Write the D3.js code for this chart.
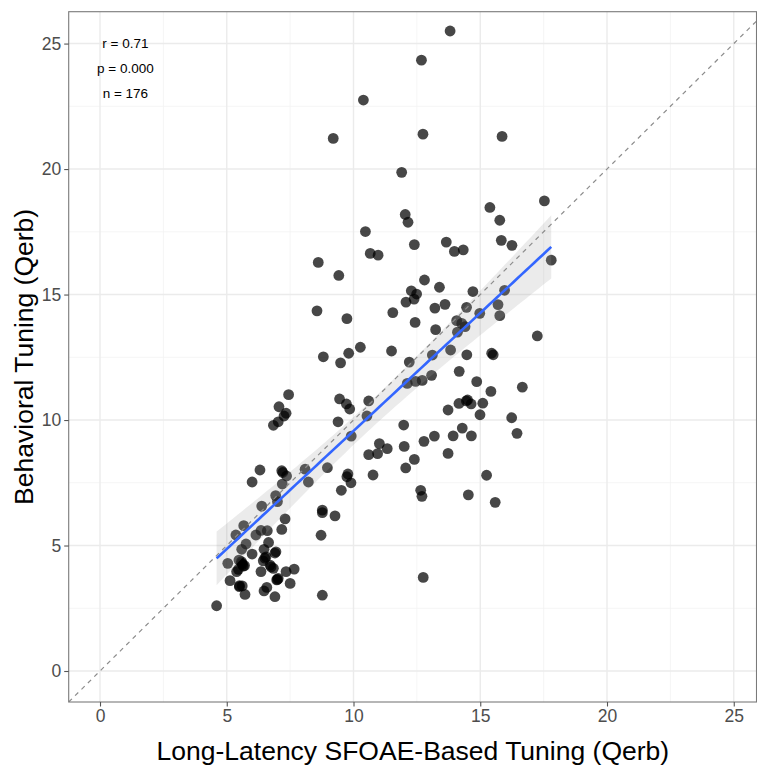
<!DOCTYPE html>
<html>
<head>
<meta charset="utf-8">
<script src="https://cdn.jsdelivr.net/npm/d3@7/dist/d3.min.js"></script>
<style>
  html, body { margin: 0; padding: 0; background: #fff; }
  svg { display: block; font-family: "Liberation Sans", Arial, sans-serif; }
</style>
</head>
<body>
<svg id="chart" width="757" height="767"></svg>
<script>
// Long-latency SFOAE-based tuning (x) against behavioral tuning (y), both in Qerb
const sfoaeQ = [
  13.81, 12.68, 10.39, 9.2, 12.74, 15.86, 11.9, 12.04, 12.15, 10.47,
  12.4, 13.66, 10.66, 10.97, 8.61, 9.42, 12.8, 13.39, 12.28, 12.49,
  12.39, 12.07, 13.61, 13.21, 8.56, 9.74, 11.55, 12.43, 13.24, 10.27,
  11.5, 9.81, 8.81, 9.49, 12.2, 13.11, 12.12, 12.45, 12.71, 13.08,
  13.73, 9.45, 9.72, 9.85, 10.6, 10.53, 9.39, 9.91, 11.98, 11.02,
  11.33, 10.6, 10.95, 12.0, 12.78, 13.19, 13.73, 12.4, 12.06, 10.77,
  8.09, 8.22, 8.97, 9.78, 9.74, 9.9, 9.52, 12.65, 12.7, 8.77,
  8.77, 9.27, 8.72, 12.75, 8.77,
  17.53, 15.38, 15.77, 15.83, 16.25, 17.8, 13.98, 14.33, 14.71, 15.96,
  14.46, 14.98, 15.7, 15.77, 14.07, 14.27, 14.4, 14.1, 17.25, 13.83,
  15.45, 15.51, 14.47, 14.17, 14.86, 15.42, 16.66, 14.16, 14.45, 14.64,
  15.1, 14.99, 16.24, 13.93, 14.29, 14.65, 16.45, 15.25, 14.53, 15.59,
  7.44, 7.06, 7.34, 7.26, 7.03, 6.84, 6.31, 6.0, 7.17, 7.21,
  7.36, 7.19, 6.93, 7.0, 6.38, 7.3, 7.17, 6.6, 6.35, 5.67,
  5.36, 6.15, 5.76, 5.59, 6.65, 6.47, 6.94, 6.0, 5.04, 5.48,
  5.59, 5.65, 5.39, 6.44, 6.55, 6.71, 6.84, 6.35, 7.34, 7.66,
  5.13, 5.5, 5.61, 5.72, 6.47, 6.58, 6.97, 7.03, 6.9, 7.5,
  4.6, 5.62, 5.58, 5.46, 6.9, 6.75, 14.5, 7.0, 5.7, 6.5, 5.5
];
const behavioralQ = [
  25.5, 24.34, 22.75, 21.22, 21.39, 21.3, 19.87, 18.19, 17.88, 17.51,
  16.99, 17.09, 16.64, 16.57, 16.28, 15.76, 15.58, 15.29, 15.15, 15.02,
  14.82, 14.7, 14.61, 14.46, 14.35, 14.04, 14.28, 13.89, 13.6, 12.9,
  12.75, 12.66, 12.52, 12.28, 12.31, 12.59, 11.46, 11.54, 11.58, 11.78,
  10.4, 10.84, 10.64, 10.44, 10.76, 10.16, 9.93, 9.36, 9.8, 9.06,
  8.86, 8.62, 8.66, 8.95, 9.15, 9.36, 8.67, 8.43, 8.09, 7.81,
  8.04, 7.53, 8.1, 7.85, 7.74, 7.5, 7.2, 7.2, 6.96, 6.41,
  6.31, 6.18, 5.41, 3.73, 3.02,
  18.73, 18.47, 17.96, 17.16, 16.96, 16.37, 16.72, 16.78, 15.12, 15.17,
  14.49, 14.25, 14.6, 14.16, 13.96, 13.85, 13.72, 13.5, 13.35, 12.79,
  12.66, 12.6, 12.6, 11.94, 11.53, 11.14, 11.31, 10.66, 10.76, 10.64,
  10.67, 10.21, 10.09, 9.37, 9.68, 9.37, 9.47, 7.8, 7.02, 6.72,
  11.01, 10.53, 10.27, 10.16, 9.93, 9.79, 8.01, 7.53, 7.98, 7.91,
  7.77, 7.45, 6.99, 6.75, 6.57, 6.06, 5.64, 5.59, 5.6, 5.79,
  5.42, 5.42, 5.06, 4.85, 5.12, 4.85, 4.75, 4.66, 4.29, 4.42,
  4.29, 4.18, 3.96, 4.39, 4.55, 4.22, 4.09, 3.96, 3.96, 4.06,
  3.6, 3.36, 3.39, 3.05, 3.19, 3.33, 3.63, 3.69, 2.96, 3.49,
  2.6, 4.25, 4.36, 4.05, 4.7, 4.15, 10.8, 3.65, 4.2, 4.5, 3.4
];
const axisTicks = [0, 5, 10, 15, 20, 25];
const minorTicks = [2.5, 7.5, 12.5, 17.5, 22.5];
const statLines = ["r = 0.71", "p = 0.000", "n = 176"];
const statRows = [25, 24, 23];

const panel = { left: 68.7, right: 757, top: 11.7, bottom: 702 };
const svg = d3.select("#chart");

const x = d3.scaleLinear().domain([-1.235, 25.917]).range([panel.left, panel.right]);
const y = d3.scaleLinear().domain([-1.235, 26.27]).range([panel.bottom, panel.top]);

svg.append("defs").append("clipPath").attr("id", "panel-clip")
  .append("rect")
  .attr("x", panel.left).attr("y", panel.top)
  .attr("width", panel.right - panel.left).attr("height", panel.bottom - panel.top);

// grid
const grid = svg.append("g");
grid.selectAll(".vminor").data(minorTicks).join("line")
  .attr("x1", d => x(d)).attr("x2", d => x(d))
  .attr("y1", panel.top).attr("y2", panel.bottom)
  .attr("stroke", "#F2F2F2").attr("stroke-width", 0.8);
grid.selectAll(".hminor").data(minorTicks).join("line")
  .attr("y1", d => y(d)).attr("y2", d => y(d))
  .attr("x1", panel.left).attr("x2", panel.right)
  .attr("stroke", "#F2F2F2").attr("stroke-width", 0.8);
grid.selectAll(".vmajor").data(axisTicks).join("line")
  .attr("x1", d => x(d)).attr("x2", d => x(d))
  .attr("y1", panel.top).attr("y2", panel.bottom)
  .attr("stroke", "#EBEBEB").attr("stroke-width", 1.4);
grid.selectAll(".hmajor").data(axisTicks).join("line")
  .attr("y1", d => y(d)).attr("y2", d => y(d))
  .attr("x1", panel.left).attr("x2", panel.right)
  .attr("stroke", "#EBEBEB").attr("stroke-width", 1.4);

const plot = svg.append("g").attr("clip-path", "url(#panel-clip)");

// points
const pts = sfoaeQ.map((v, i) => [v, behavioralQ[i]]);
plot.append("g").selectAll("circle").data(pts).join("circle")
  .attr("cx", d => x(d[0])).attr("cy", d => y(d[1]))
  .attr("r", 5.4)
  .attr("fill", "#000").attr("fill-opacity", 0.72);

// least-squares fit with 95% confidence band
const n = pts.length;
const mx = d3.mean(sfoaeQ), my = d3.mean(behavioralQ);
let sxx = 0, sxy = 0;
pts.forEach(([a, b]) => { sxx += (a - mx) ** 2; sxy += (a - mx) * (b - my); });
const slope = sxy / sxx, intercept = my - slope * mx;
const sse = d3.sum(pts, ([a, b]) => (b - (intercept + slope * a)) ** 2);
const s = Math.sqrt(sse / (n - 2));
const tq = 1.9737;
const [xmin, xmax] = d3.extent(sfoaeQ);
const band = d3.range(0, 81).map(i => {
  const xv = xmin + (xmax - xmin) * i / 80;
  const fit = intercept + slope * xv;
  const se = s * Math.sqrt(1 / n + (xv - mx) ** 2 / sxx);
  return { xv, fit, lo: fit - tq * se, hi: fit + tq * se };
});
plot.append("path").datum(band)
  .attr("d", d3.area().x(d => x(d.xv)).y0(d => y(d.lo)).y1(d => y(d.hi)))
  .attr("fill", "#999").attr("fill-opacity", 0.2);
plot.append("path").datum(band)
  .attr("d", d3.line().x(d => x(d.xv)).y(d => y(d.fit)))
  .attr("fill", "none").attr("stroke", "#3366FF").attr("stroke-width", 2.6);

// identity line
const idDomain = x.domain();
plot.append("line")
  .attr("x1", x(idDomain[0])).attr("y1", y(idDomain[0]))
  .attr("x2", x(idDomain[1])).attr("y2", y(idDomain[1]))
  .attr("stroke", "#8C8C8C").attr("stroke-width", 1.2)
  .attr("stroke-dasharray", "4.5,4.5");

// statistics annotation
svg.append("g").selectAll("text").data(statLines).join("text")
  .attr("x", x(1)).attr("y", (d, i) => y(statRows[i]))
  .attr("text-anchor", "middle").attr("dominant-baseline", "central")
  .attr("font-size", 13.5).attr("fill", "#000")
  .text(d => d);

// panel border
svg.append("rect")
  .attr("x", panel.left).attr("y", panel.top)
  .attr("width", panel.right - 0.5 - panel.left).attr("height", panel.bottom - panel.top)
  .attr("fill", "none").attr("stroke", "#7A7A7A").attr("stroke-width", 1.1);

// axes
const xAxis = svg.append("g").attr("transform", `translate(0,${panel.bottom})`)
  .call(d3.axisBottom(x).tickValues(axisTicks).tickSize(4.5).tickPadding(3).tickFormat(d3.format("d")));
const yAxis = svg.append("g").attr("transform", `translate(${panel.left},0)`)
  .call(d3.axisLeft(y).tickValues(axisTicks).tickSize(4.5).tickPadding(3).tickFormat(d3.format("d")));
[xAxis, yAxis].forEach(g => {
  g.select(".domain").remove();
  g.selectAll(".tick line").attr("stroke", "#555").attr("stroke-width", 1.1);
  g.selectAll(".tick text").attr("fill", "#4D4D4D").attr("font-size", 17.5)
    .attr("font-family", "Liberation Sans, Arial, sans-serif");
});

// axis titles
svg.append("text")
  .attr("x", (panel.left + panel.right) / 2).attr("y", 760)
  .attr("text-anchor", "middle").attr("font-size", 26.5).attr("fill", "#000")
  .text("Long-Latency SFOAE-Based Tuning (Qerb)");
svg.append("text")
  .attr("transform", `translate(32.5,${(panel.top + panel.bottom) / 2}) rotate(-90)`)
  .attr("text-anchor", "middle").attr("font-size", 26.5).attr("fill", "#000")
  .text("Behavioral Tuning (Qerb)");
</script>
</body>
</html>
